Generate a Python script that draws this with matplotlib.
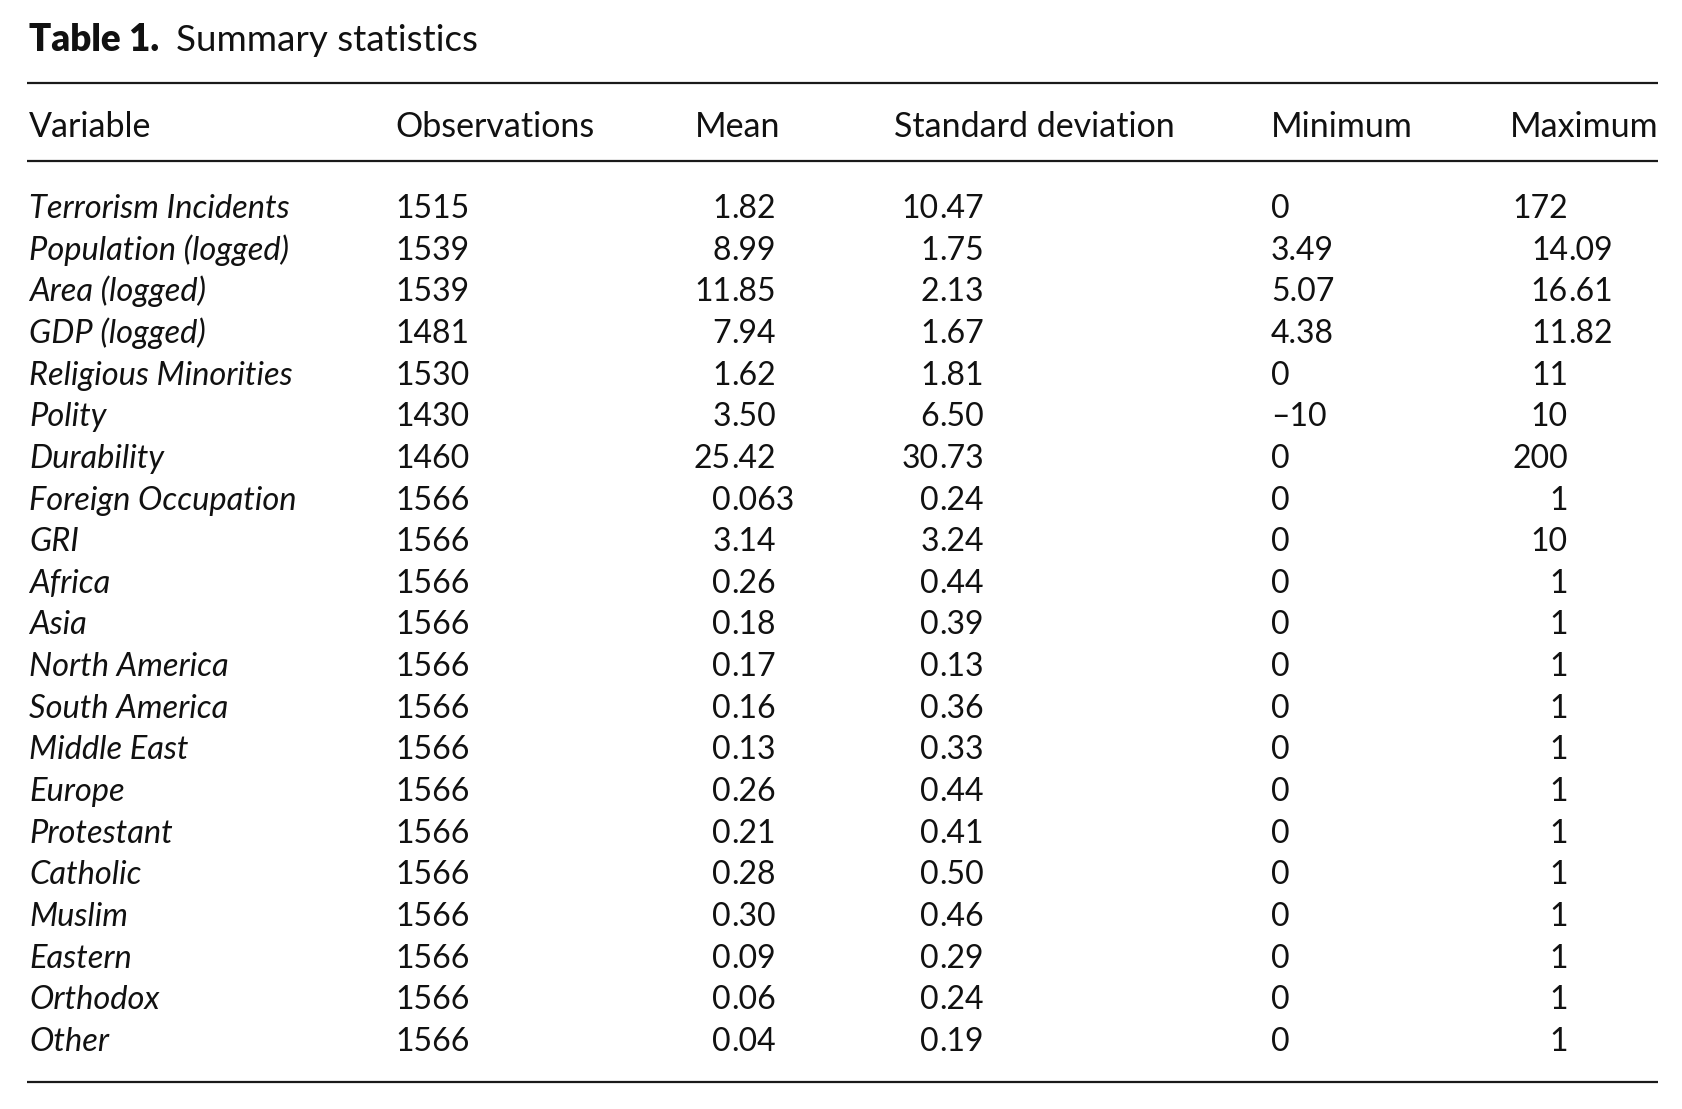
import matplotlib.pyplot as plt

# table contents
title_bold = "Table 1."
title_rest = "Summary statistics"
headers = ["Variable", "Observations", "Mean", "Standard deviation", "Minimum", "Maximum"]

variables = ["Terrorism Incidents", "Population (logged)", "Area (logged)", "GDP (logged)",
             "Religious Minorities", "Polity", "Durability", "Foreign Occupation", "GRI",
             "Africa", "Asia", "North America", "South America", "Middle East", "Europe",
             "Protestant", "Catholic", "Muslim", "Eastern", "Orthodox", "Other"]
observations = ["1515", "1539", "1539", "1481", "1530", "1430", "1460", "1566", "1566",
                "1566", "1566", "1566", "1566", "1566", "1566", "1566", "1566", "1566",
                "1566", "1566", "1566"]
means = ["1.82", "8.99", "11.85", "7.94", "1.62", "3.50", "25.42", "0.063", "3.14",
         "0.26", "0.18", "0.17", "0.16", "0.13", "0.26", "0.21", "0.28", "0.30",
         "0.09", "0.06", "0.04"]
sds = ["10.47", "1.75", "2.13", "1.67", "1.81", "6.50", "30.73", "0.24", "3.24",
       "0.44", "0.39", "0.13", "0.36", "0.33", "0.44", "0.41", "0.50", "0.46",
       "0.29", "0.24", "0.19"]
minimums = ["0", "3.49", "5.07", "4.38", "0", "\u201310", "0", "0", "0",
            "0", "0", "0", "0", "0", "0", "0", "0", "0", "0", "0", "0"]
maximums = ["172", "14.09", "16.61", "11.82", "11", "10", "200", "1", "10",
            "1", "1", "1", "1", "1", "1", "1", "1", "1", "1", "1", "1"]

W, H = 1683, 1109
FONT = "Lato"
FS_TITLE = 26.5
FS_HEAD = 24.5
FS_VAR = 23.5
FS_NUM = 23
INK = "#111111"

fig = plt.figure(figsize=(W / 100, H / 100), dpi=100)
ax = fig.add_axes([0, 0, 1, 1])
ax.set_xlim(0, W)
ax.set_ylim(H, 0)
ax.axis("off")

# title
t = ax.text(29, 51, title_bold + "  ", fontsize=FS_TITLE, fontweight="heavy", family=FONT,
            va="baseline", color=INK)
fig.canvas.draw()
bb = t.get_window_extent()
x_end = ax.transData.inverted().transform((bb.x1, 0))[0]
ax.text(x_end, 51, title_rest, fontsize=FS_TITLE, family=FONT, va="baseline", color=INK)

# rules
ax.hlines([83, 161, 1082], 27, 1658, color="#1a1a1a", lw=1.6)

# header
header_x = [29, 395, 695, 894, 1271, 1510]
for hx, h in zip(header_x, headers):
    ax.text(hx, 137, h, fontsize=FS_HEAD, family=FONT, va="baseline", color=INK)


def decimal_text(x_dec, y, s):
    # integer part ends at x_dec, fraction starts there
    kw = dict(fontsize=FS_NUM, family=FONT, va="baseline", color=INK)
    if "." in s:
        ip, fp = s.split(".")
        ax.text(x_dec, y, ip, ha="right", **kw)
        ax.text(x_dec, y, "." + fp, ha="left", **kw)
    else:
        ax.text(x_dec, y, s, ha="right", **kw)


y0, dy = 218, 41.65
for i, var in enumerate(variables):
    y = y0 + i * dy
    ax.text(29, y, var, fontsize=FS_VAR, family=FONT, style="italic", va="baseline", color=INK)
    ax.text(395, y, observations[i], fontsize=FS_NUM, family=FONT, va="baseline", color=INK)
    decimal_text(731, y, means[i])
    decimal_text(939, y, sds[i])
    ax.text(1271, y, minimums[i], fontsize=FS_NUM, family=FONT, va="baseline", color=INK)
    decimal_text(1568, y, maximums[i])

fig.savefig("out.png", dpi=100)
